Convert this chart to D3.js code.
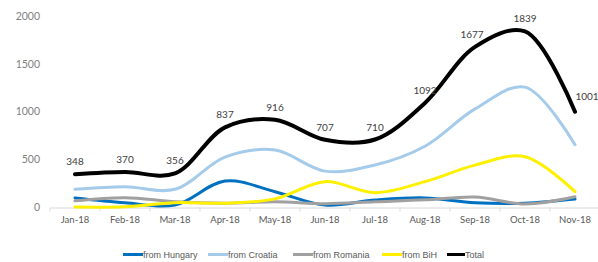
<!DOCTYPE html>
<html>
<head>
<meta charset="utf-8">
<script src="https://cdn.jsdelivr.net/npm/d3@7/dist/d3.min.js"></script>
<style>
  body { margin: 0; background: #fff; }
  svg { display: block; }
</style>
</head>
<body>
<div id="chart"></div>
<script>
var months = ["Jan-18", "Feb-18", "Mar-18", "Apr-18", "May-18", "Jun-18", "Jul-18", "Aug-18", "Sep-18", "Oct-18", "Nov-18"]
var hungary = [100, 50, 25, 277, 165, 25, 78, 100, 50, 45, 88]
var croatia = [190, 217, 190, 527, 600, 380, 444, 640, 1030, 1257, 655]
var romania = [70, 103, 60, 45, 60, 40, 60, 80, 110, 37, 112]
var bih = [5, 8, 50, 45, 90, 270, 155, 270, 443, 530, 165]
var total = [348, 370, 356, 837, 916, 707, 710, 1092, 1677, 1839, 1001]
var yTicks = [0, 500, 1000, 1500, 2000]

var series = [
  { name: "from Hungary", values: hungary, color: "#0070C0", w: 3 },
  { name: "from Croatia", values: croatia, color: "#A5CBEB", w: 3 },
  { name: "from Romania", values: romania, color: "#A0A0A0", w: 3 },
  { name: "from BiH", values: bih, color: "#FFF000", w: 3 },
  { name: "Total", values: total, color: "#000000", w: 4 }
]

var width = 598, height = 262

var svg = d3.select("#chart")
  .append("svg")
  .attr("width", width)
  .attr("height", height)

var x = d3.scaleBand()
  .domain(months)
  .range([50, 600])

var y = d3.scaleLinear()
  .domain([0, 2000])
  .range([207.5, 16])

// y labels (no axis line)
svg.selectAll("ylab")
  .data(yTicks)
  .enter()
  .append("text")
  .attr("x", 40)
  .attr("y", function (d) { return y(d) })
  .attr("dy", "0.35em")
  .attr("text-anchor", "end")
  .style("font-family", "Lato, 'Open Sans', sans-serif")
  .style("font-size", "10.5px")
  .style("fill", "#7f7f7f")
  .text(function (d) { return d })

// x axis
var xAxis = svg.append("g")
  .attr("transform", "translate(0," + y(0) + ")")
  .call(d3.axisBottom(x).tickSize(0).tickPadding(9))
xAxis.select(".domain").attr("stroke", "#d9d9d9")
xAxis.selectAll("text")
  .style("font-family", "Lato, 'Open Sans', sans-serif")
  .style("font-size", "9.5px")
  .style("fill", "#595959")

// tick marks at category boundaries
svg.selectAll("xtick")
  .data(months)
  .enter()
  .append("line")
  .attr("x1", function (d) { return x(d) })
  .attr("x2", function (d) { return x(d) })
  .attr("y1", y(0))
  .attr("y2", y(0) + 4)
  .attr("stroke", "#d9d9d9")

// lines
var line = d3.line()
  .x(function (d, i) { return x(months[i]) + x.bandwidth() / 2 })
  .y(function (d) { return y(d) })
  .curve(d3.curveCatmullRom.alpha(0.5))

svg.selectAll("myLines")
  .data(series)
  .enter()
  .append("path")
  .attr("d", function (d) { return line(d.values) })
  .attr("stroke", function (d) { return d.color })
  .attr("stroke-width", function (d) { return d.w })
  .attr("stroke-linecap", "round")
  .attr("fill", "none")

// total labels
var labelShift = { 8: [-3, 0], 10: [12, -3] }
svg.selectAll("myLabels")
  .data(total)
  .enter()
  .append("text")
  .attr("x", function (d, i) { return x(months[i]) + x.bandwidth() / 2 + (labelShift[i] ? labelShift[i][0] : 0) })
  .attr("y", function (d, i) { return y(d) - 9 + (labelShift[i] ? labelShift[i][1] : 0) })
  .attr("text-anchor", "middle")
  .style("font-family", "Lato, 'Open Sans', sans-serif")
  .style("font-size", "10px")
  .style("fill", "#404040")
  .text(function (d) { return d })

// legend
var legendX = [123, 208, 293, 382, 447]
var leg = svg.selectAll("myLegend")
  .data(series)
  .enter()
  .append("g")
  .attr("transform", function (d, i) { return "translate(" + legendX[i] + ",254.5)" })
leg.append("line")
  .attr("x1", 0)
  .attr("x2", function (d, i) { return i == 4 ? 18 : 20 })
  .attr("stroke", function (d) { return d.color })
  .attr("stroke-width", 3)
leg.append("text")
  .attr("x", function (d, i) { return i == 4 ? 18 : 20 })
  .attr("dy", "0.35em")
  .style("font-family", "'Liberation Sans', Arial, sans-serif")
  .style("font-size", "9px")
  .style("fill", "#595959")
  .text(function (d) { return d.name })
</script>
</body>
</html>
